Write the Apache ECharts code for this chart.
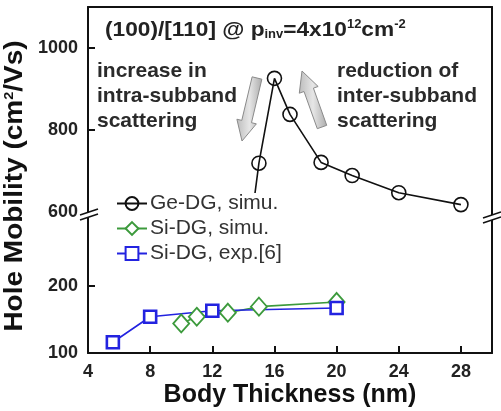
<!DOCTYPE html>
<html>
<head>
<meta charset="utf-8">
<script src="https://cdn.jsdelivr.net/npm/echarts@6/dist/echarts.min.js"></script>
<style>
  html, body { margin: 0; padding: 0; background: #fff; }
  #chart { width: 501px; height: 411px; }
</style>
</head>
<body>
<div id="chart"></div>
<script>
// data
var geThick = [14, 15, 16, 17, 19, 21, 24, 28];
var geMob = [430, 719, 926, 838, 721, 689, 647, 618];
var siSimThick = [10, 11, 13, 15, 20];
var siSimMob = [144, 154, 160, 169, 176];
var siExpThick = [5.6, 8, 12, 20];
var siExpMob = [116, 154, 163, 167];
var xTicks = [4, 8, 12, 16, 20, 24, 28];
var upperTicks = [600, 800, 1000];
var lowerTicks = [100, 200];

var FONT = '"Liberation Sans", Arial, sans-serif';
var ink = '#111';

function pairs(xs, ys) {
    return xs.map(function (x, i) { return [x, ys[i]]; });
}

// block arrow from tail to tip
function arrow(tx, ty, px, py, w, h, L) {
    var dx = px - tx, dy = py - ty;
    var len = Math.sqrt(dx * dx + dy * dy);
    var ux = dx / len, uy = dy / len, nx = -uy, ny = ux;
    var bx = px - ux * L, by = py - uy * L;
    return [
        [tx + nx * w, ty + ny * w], [bx + nx * w, by + ny * w], [bx + nx * h, by + ny * h],
        [px, py],
        [bx - nx * h, by - ny * h], [bx - nx * w, by - ny * w], [tx - nx * w, ty - ny * w]
    ];
}

function breakMark(cx, cy) {
    return [
        { type: 'polygon', shape: { points: [[cx - 9, cy + 1], [cx + 9, cy - 5], [cx + 9, cy], [cx - 9, cy + 6]] },
          style: { fill: '#fff' }, z: 100 },
        { type: 'line', shape: { x1: cx - 9, y1: cy + 1, x2: cx + 9, y2: cy - 5 }, style: { stroke: ink, lineWidth: 1.5 }, z: 101 },
        { type: 'line', shape: { x1: cx - 9, y1: cy + 6, x2: cx + 9, y2: cy }, style: { stroke: ink, lineWidth: 1.5 }, z: 101 }
    ];
}

var chart = echarts.init(document.getElementById('chart'));

var axisLineStyle = { onZero: false, lineStyle: { color: ink, width: 2 } };
var plain = function (v) { return String(v); };
var labelStyle = { fontFamily: FONT, fontWeight: 'bold', fontSize: 18, color: '#222', formatter: plain };

var frameAxis = function (grid) {
    return {
        gridIndex: grid, type: 'value', position: 'right', min: 0, max: 1,
        axisLine: { show: true, onZero: false, lineStyle: { color: ink, width: 2 } },
        axisTick: { show: false }, axisLabel: { show: false }, splitLine: { show: false }
    };
};

var arrowFill = new echarts.graphic.LinearGradient(0, 0, 1, 0, [
    { offset: 0, color: '#bcbcbc' }, { offset: 0.5, color: '#e6e6e6' }, { offset: 1, color: '#ababab' }
]);

var option = {
    animation: false,
    backgroundColor: '#fff',
    grid: [
        { left: 88, right: 9, top: 7, height: 205 },
        { left: 88, right: 9, top: 212, height: 141 }
    ],
    xAxis: [
        {
            gridIndex: 0, type: 'value', min: 4, max: 30, position: 'top',
            axisLine: axisLineStyle, axisTick: { show: false }, axisLabel: { show: false },
            splitLine: { show: false }
        },
        {
            gridIndex: 1, type: 'value', min: 4, max: 30, position: 'bottom',
            axisLine: axisLineStyle,
            axisTick: { inside: true, length: 7, lineStyle: { color: ink, width: 2 }, customValues: xTicks },
            axisLabel: Object.assign({ margin: 10, customValues: xTicks }, labelStyle),
            splitLine: { show: false },
            name: 'Body Thickness (nm)', nameLocation: 'middle', nameGap: 30,
            nameTextStyle: { fontFamily: FONT, fontWeight: 'bold', fontSize: 25, color: '#111' }
        }
    ],
    yAxis: [
        {
            gridIndex: 0, type: 'value', min: 600, max: 1100, position: 'left',
            axisLine: axisLineStyle,
            axisTick: { inside: true, length: 7, lineStyle: { color: ink, width: 2 }, customValues: [800, 1000] },
            axisLabel: Object.assign({ margin: 10, customValues: upperTicks }, labelStyle),
            splitLine: { show: false }
        },
        frameAxis(0),
        {
            gridIndex: 1, type: 'value', min: 100, max: 310, position: 'left',
            axisLine: axisLineStyle,
            axisTick: { inside: true, length: 7, lineStyle: { color: ink, width: 2 }, customValues: lowerTicks },
            axisLabel: Object.assign({ margin: 10, customValues: lowerTicks }, labelStyle),
            splitLine: { show: false }
        },
        frameAxis(1)
    ],
    legend: {
        orient: 'vertical', left: 114, top: 193,
        itemWidth: 30, itemHeight: 16, itemGap: 4,
        backgroundColor: '#fff', padding: [0, 2, 0, 2],
        textStyle: { fontFamily: FONT, fontSize: 21, color: '#333', lineHeight: 21, padding: [0, 0, 0, -2] },
        data: ['Ge-DG, simu.', 'Si-DG, simu.', 'Si-DG, exp.[6]']
    },
    series: [
        {
            name: 'Ge-DG, simu.', type: 'line', xAxisIndex: 0, yAxisIndex: 0,
            data: pairs(geThick, geMob),
            symbol: 'circle', symbolSize: 14,
            lineStyle: { color: ink, width: 1.6 },
            itemStyle: { color: 'rgba(255,255,255,0)', borderColor: ink, borderWidth: 1.6 }
        },
        {
            name: 'Si-DG, simu.', type: 'line', xAxisIndex: 1, yAxisIndex: 2,
            data: pairs(siSimThick, siSimMob),
            symbol: 'diamond', symbolSize: [16, 18],
            lineStyle: { color: '#3c9a3c', width: 1.6 },
            itemStyle: { color: '#fff', borderColor: '#3c9a3c', borderWidth: 1.8 }
        },
        {
            name: 'Si-DG, exp.[6]', type: 'line', xAxisIndex: 1, yAxisIndex: 2,
            data: pairs(siExpThick, siExpMob),
            symbol: 'rect', symbolSize: 12,
            lineStyle: { color: '#2323e0', width: 1.6 },
            itemStyle: { color: '#fff', borderColor: '#2323e0', borderWidth: 2.6 }
        }
    ],
    graphic: [
        {
            type: 'text', x: 105, y: 30, scaleX: 1.08, z: 50,
            style: {
                text: '(100)/[110] @ p{sub|inv}=4x10{sup|12}cm{sup|-2}',
                fontFamily: FONT, fontWeight: 'bold', fontSize: 21, fill: '#222',
                verticalAlign: 'middle',
                rich: {
                    sub: { fontFamily: FONT, fontWeight: 'bold', fontSize: 12, fill: '#222', padding: [10, 0, 0, 0] },
                    sup: { fontFamily: FONT, fontWeight: 'bold', fontSize: 12, fill: '#222', padding: [0, 0, 10, 0] }
                }
            }
        },
        {
            type: 'text', x: 15, y: 186, rotation: Math.PI / 2, scaleX: 1.12, z: 50,
            style: {
                text: 'Hole Mobility (cm{sup|2}/Vs)',
                fontFamily: FONT, fontWeight: 'bold', fontSize: 25, fill: '#111',
                align: 'center', verticalAlign: 'middle',
                rich: {
                    sup: { fontFamily: FONT, fontWeight: 'bold', fontSize: 13, fill: '#111', padding: [0, 0, 12, 0] }
                }
            }
        },
        {
            type: 'text', left: 97, top: 59, z: 50,
            style: {
                text: 'increase in\nintra-subband\nscattering',
                fontFamily: FONT, fontWeight: 'bold', fontSize: 21, lineHeight: 25, fill: '#2a2a2a'
            }
        },
        {
            type: 'text', left: 337, top: 59, z: 50,
            style: {
                text: 'reduction of\ninter-subband\nscattering',
                fontFamily: FONT, fontWeight: 'bold', fontSize: 21, lineHeight: 25, fill: '#2a2a2a'
            }
        },
        {
            type: 'polygon', z: 40,
            shape: { points: arrow(257, 78, 242, 141, 5, 10, 20) },
            style: { fill: arrowFill, stroke: '#8a8a8a', lineWidth: 1 }
        },
        {
            type: 'polygon', z: 40,
            shape: { points: arrow(322, 127, 302, 71, 5, 10, 20) },
            style: { fill: arrowFill, stroke: '#8a8a8a', lineWidth: 1 }
        }
    ].concat(breakMark(89, 214), breakMark(492, 217))
};

chart.setOption(option);
</script>
</body>
</html>
